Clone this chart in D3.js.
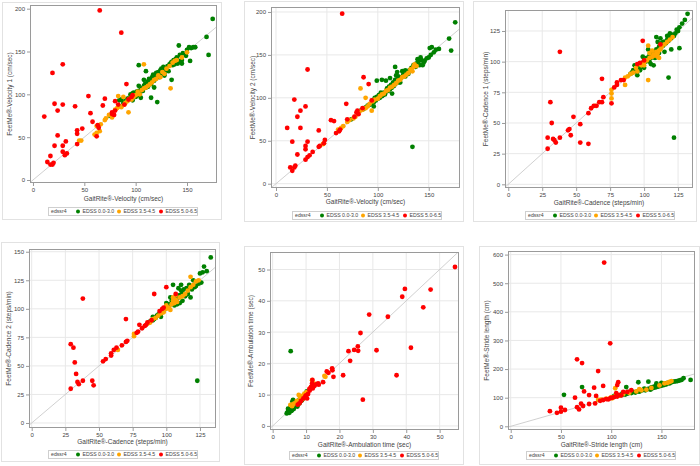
<!DOCTYPE html>
<html><head><meta charset="utf-8">
<script src="https://cdn.jsdelivr.net/npm/d3@7"></script>
<style>body{margin:0;background:#fff} svg{display:block} text{font-family:Arial,"Liberation Sans",sans-serif}</style>
</head><body><svg id="c" width="700" height="466"></svg>
<script>
// ---------- data ----------
const groupLabels = ["EDSS 0.0-3.0","EDSS 3.5-4.5","EDSS 5.0-6.5"];
const groupColors = ["#008000","#ffa500","#ff0000"];
const legendTitle = "edssr4";

const velTicks = [0,50,100,150];
const vel1YTicks = [0,50,100,150,200];
const vel2YTicks = [0,50,100,150,200];
const cadXTicks = [0,25,50,75,100,125];
const cad1YTicks = [0,25,50,75,100,125];
const cad2YTicks = [0,25,50,75,100,125,150];
const ambXTicks = [0,10,20,30,40,50];
const ambYTicks = [0,10,20,30,40,50];
const strXTicks = [0,50,100,150];
const strYTicks = [0,100,200,300,400,500,600];

// Panel 1: Velocity 1
const p1Green = [[75,75],[84,93],[86,94],[88,90],[90,92],[92,95],[94,96],[95,100],[96,98],[97,101],[98,102],[99,100],[100,101],[100,97],[101,103],[102,99],[103,104],[104,101],[105,105],[103,110],[106,107],[107,104],[108,110],[108,117],[109,112],[110,108],[110,127],[111,113],[112,115],[112,109],[113,118],[114,116],[115,112],[115,96],[116,120],[117,118],[117,123],[118,116],[119,121],[120,125],[120,119],[121,91],[121,123],[122,126],[123,120],[124,128],[125,124],[125,130],[126,127],[127,132],[128,125],[128,122],[129,130],[130,128],[131,133],[132,127],[133,135],[134,136],[135,138],[135,117],[136,134],[137,140],[137,137],[138,135],[139,141],[140,138],[140,143],[141,136],[142,139],[142,157],[143,146],[144,138],[145,140],[145,136],[146,148],[149,145],[150,152],[152,155],[153,139],[154,154],[156,155],[158,155],[169,167],[171,146],[175,188],[103,134],[97,93],[118,108],[105,96]];
const p1Orange = [[45,46],[47,46],[60,53],[62,55],[65,57],[62,63],[66,65],[70,70],[71,72],[74,76],[77,73],[80,82],[82,84],[83,98],[85,86],[86,85],[88,97],[89,88],[90,90],[92,92],[93,79],[94,95],[96,94],[98,97],[100,99],[102,103],[104,100],[106,105],[108,107],[108,135],[110,108],[112,110],[114,112],[116,114],[118,117],[120,118],[122,122],[124,120],[126,126],[128,124],[130,130],[133,133],[134,107],[136,137],[138,139],[140,140],[145,143],[150,149]];
const p1Red = [[65,198],[86,172],[29,135],[19,125],[11,74],[21,89],[29,88],[24,81],[41,86],[54,98],[56,78],[70,95],[68,87],[91,112],[80,92],[43,58],[43,54],[48,60],[24,52],[21,40],[29,40],[32,45],[29,33],[33,31],[31,29],[17,28],[43,42],[14,21],[17,18],[19,18],[20,20],[58,68],[63,64],[62,51],[64,61],[77,77],[77,79],[80,81],[83,88],[89,88],[97,99],[96,97],[93,94],[79,76]];

// Panel 2: Velocity 2
const p2Green = [[176,188],[170,169],[172,155],[151,158],[153,159],[150,147],[134,43],[117,136],[99,120],[114,105],[96,90],[74,75],[143,144],[140,142],[145,141],[141,138],[138,140],[144,138],[139,145],[142,147],[146,143],[137,136],[135,138],[133,135],[131,132],[130,128],[128,130],[127,125],[125,127],[124,131],[123,124],[122,122],[121,118],[120,125],[119,120],[118,117],[117,121],[116,114],[115,118],[114,112],[113,115],[112,110],[111,113],[110,108],[109,111],[108,107],[107,104],[106,106],[105,103],[104,102],[103,106],[102,100],[101,103],[100,99],[99,101],[98,97],[97,100],[96,95],[95,97],[94,94],[92,92],[90,91],[88,89],[86,87],[84,86],[155,153],[157,156],[160,157],[148,146],[152,150],[127,132],[122,118],[119,130],[118,126],[104,121],[108,120],[112,123]];
const p2Orange = [[83,111],[88,100],[94,85],[47,47],[46,46],[61,63],[66,67],[64,65],[134,131],[135,136],[70,72],[72,74],[76,76],[78,78],[82,84],[85,86],[88,88],[90,90],[92,93],[95,96],[97,98],[100,99],[102,102],[104,104],[106,105],[108,108],[110,109],[112,112],[114,113],[116,115],[118,117],[120,120],[122,121],[124,124],[126,125],[128,127],[130,129],[132,133],[136,139],[138,137]];
const p2Red = [[65,198],[31,133],[86,124],[91,116],[18,98],[29,90],[24,85],[21,78],[24,65],[11,65],[42,62],[54,74],[57,73],[69,93],[70,75],[16,49],[31,49],[29,44],[29,40],[43,44],[42,43],[48,51],[47,47],[36,37],[33,33],[31,31],[29,28],[21,34],[19,21],[18,19],[14,19],[16,15],[59,59],[62,61],[63,63],[77,78],[79,83],[80,85],[94,97],[85,88],[81,81]];

// Panel 3: Cadence 1
const p3Green = [[132,139],[130,134],[128,131],[126,128],[124,126],[122,38],[118,87],[107,105],[115,108],[126,111],[109,120],[95,89],[90,90],[91,91],[92,93],[93,92],[94,94],[95,96],[96,95],[97,97],[98,96],[99,99],[100,101],[101,100],[102,103],[103,102],[104,105],[105,103],[106,106],[107,108],[108,107],[109,110],[110,109],[111,112],[112,111],[113,114],[114,113],[115,116],[116,115],[117,118],[118,117],[119,120],[120,119],[121,122],[122,121],[123,123],[125,125],[120,110],[112,119],[110,116],[103,110],[105,98],[107,97],[117,121],[113,115],[104,100],[100,95],[97,93],[93,97],[99,104],[108,103],[111,107],[114,116],[119,123]];
const p3Orange = [[76,77],[76,74],[76,70],[64,64],[86,81],[86,87],[103,85],[110,104],[103,113],[88,88],[90,90],[92,91],[94,95],[96,98],[98,97],[100,99],[102,101],[104,103],[106,104],[107,106],[108,105],[109,108],[110,107],[111,109],[112,110],[113,112],[115,114],[117,116],[119,118],[121,120],[111,103],[106,109],[104,107],[100,97],[95,92]];
const p3Red = [[38,108],[31,67],[32,50],[29,38],[29,29],[33,37],[34,36],[35,34],[38,38],[44,44],[45,45],[46,40],[48,55],[53,49],[53,34],[59,33],[59,58],[61,62],[63,64],[65,64],[67,67],[69,67],[69,86],[70,71],[76,66],[78,79],[80,83],[80,81],[83,85],[85,85],[99,117],[95,98],[97,99],[100,101],[112,114]];

// Panel 4: Cadence 2
const p4Green = [[133,145],[128,137],[130,133],[127,132],[125,131],[123,37],[110,105],[90,93],[105,121],[118,119],[120,125],[117,121],[115,118],[113,117],[112,114],[111,116],[110,112],[109,110],[108,111],[107,109],[106,108],[105,106],[104,107],[103,104],[102,103],[101,104],[100,101],[99,100],[98,99],[97,97],[96,98],[95,96],[94,95],[93,94],[92,92],[91,91],[90,90],[88,89],[87,88],[106,103],[108,104],[112,107],[114,111],[116,113],[119,117],[121,119],[122,120],[124,122],[126,123],[109,118],[111,121],[103,110],[100,105],[96,93],[118,110]];
const p4Orange = [[76,76],[76,78],[64,64],[103,99],[118,128],[86,87],[88,88],[90,91],[92,92],[94,94],[96,96],[98,97],[100,100],[102,101],[104,104],[105,107],[106,105],[107,108],[108,106],[110,110],[112,111],[114,113],[116,116],[118,119],[120,121],[122,124],[124,125],[107,112],[105,110],[100,103]];
const p4Red = [[38,109],[29,69],[31,66],[32,53],[33,43],[34,36],[35,34],[38,37],[29,30],[45,37],[46,33],[70,91],[53,54],[55,56],[59,59],[59,61],[61,64],[63,66],[67,68],[70,71],[71,72],[78,79],[79,80],[80,86],[82,83],[84,85],[85,86],[91,113],[100,119],[97,100],[107,113],[95,98],[98,101],[86,88],[89,90]];

// Panel 5: Ambulation time
const p5Green = [[5.4,23.9],[4.2,4.0],[4.5,4.4],[4.8,4.6],[5.0,4.2],[5.2,5.0],[5.5,5.3],[5.8,5.1],[6.0,5.8],[6.2,6.5],[6.5,6.0],[6.8,6.6],[7.0,7.2],[7.2,6.8],[7.5,7.4],[7.8,7.9],[8.0,8.3],[8.3,8.0],[8.6,8.8],[9.0,9.2],[9.4,9.6],[9.8,10.2],[10.2,11.0],[6.1,8.3],[5.9,7.8],[4.6,5.5],[4.4,4.2],[5.6,4.8],[6.3,5.4],[7.4,6.2],[8.1,7.3],[8.8,8.2],[6.6,7.0],[5.3,6.0],[4.9,5.0],[7.7,7.0]];
const p5Orange = [[11.8,14.6],[15.8,15.7],[12,12.8],[7.8,9.9],[5.3,6.7],[5.8,6.3],[6.5,7.2],[7.2,8.0],[8.2,9.0],[8.8,9.6],[9.5,10.3],[10.2,10.8],[11.2,12.0],[12.5,13.5],[15.5,16.0],[9.0,8.6],[6.0,6.9]];
const p5Red = [[54.6,50.8],[47.3,43.6],[39.6,43.8],[38.8,41.3],[45.1,37.9],[28.9,35.6],[34.5,34.9],[26.3,29.7],[22.7,23.9],[24.4,24.3],[25.5,25.4],[25.6,24],[31.1,24.2],[41.4,25],[23.2,20.8],[37.1,16.2],[27,8.4],[21.1,16.2],[18.2,15.7],[17.8,18.4],[17.9,17.8],[16.7,17],[16.2,17.4],[15.1,14],[13.6,13.6],[13,13.3],[12.5,12.8],[11.9,14.7],[11.8,13.6],[11.5,12.5],[11.1,11.3],[10.6,10.2],[10.3,8.8],[9.8,9.5],[9.2,8.8],[8.5,8],[8,7.2],[7.5,6.8],[12,12],[11,11.8],[13.8,13.2],[10,9.8]];

// Panel 6: Stride length
const p6Green = [[53,110],[71,137],[115,137],[127,154],[137,156],[179,162],[170,162],[172,168],[103,106],[106,106],[108,108],[110,109],[112,112],[114,111],[116,114],[118,117],[120,116],[122,120],[124,118],[126,122],[128,121],[130,125],[132,127],[134,126],[136,130],[138,132],[140,136],[141,133],[142,138],[143,135],[144,140],[145,137],[146,142],[147,139],[148,144],[149,141],[150,146],[151,143],[152,148],[153,145],[154,150],[155,147],[156,152],[158,150],[160,154],[162,156],[164,157],[166,158],[168,160],[139,128],[133,132],[117,120],[111,114],[145,150],[150,152]];
const p6Orange = [[104,133],[87,92],[156,152],[160,158],[90,93],[95,97],[100,102],[104,105],[108,107],[112,113],[118,117],[125,122],[130,126],[135,128],[140,134],[148,143],[153,150],[158,155],[128,130],[101,98]];
const p6Red = [[93,572],[99,290],[66,234],[71,221],[87,193],[73,122],[83,135],[92,141],[107,154],[106,144],[70,79],[64,100],[66,67],[68,59],[72,71],[78,109],[78,78],[84,80],[85,106],[54,57],[50,65],[50,51],[46,47],[39,53],[89,89],[92,92],[95,95],[99,98],[103,102],[106,104],[110,108],[112,120],[116,120],[120,126],[105,116],[97,94],[101,100],[108,110]];

// ---------- layout ----------
const panels = [
 {frame:[2,2,222,220], plot:[30,5,217,183], xd:[-2.9,179.2], yd:[-3.5,204.3], xt:velTicks, yt:vel1YTicks,
  xl:"GaitRite®-Velocity (cm/sec)", yl:"FeetMe®-Velocity 1 (cm/sec)", data:[p1Green,p1Orange,p1Red], grid:false, legX:48, legY:211, xTitleY:199, yTitleX:10},
 {frame:[244,1,464,222], plot:[271,7,460,188], xd:[-4.9,180.7], yd:[-5,205.8], xt:velTicks, yt:vel2YTicks,
  xl:"GaitRite®-Velocity (cm/sec)", yl:"FeetMe®-Velocity 2 (cm/sec)", data:[p2Green,p2Orange,p2Red], grid:true, legX:292, legY:215, xTitleY:202, yTitleX:253},
 {frame:[473,1,697,222], plot:[505,10,693,188], xd:[-2.4,136], yd:[-3,142.1], xt:cadXTicks, yt:cad1YTicks,
  xl:"GaitRite®-Cadence (steps/min)", yl:"FeetMe®-Cadence 1 (steps/min)", data:[p3Green,p3Orange,p3Red], grid:true, legX:525, legY:215, xTitleY:203, yTitleX:486},
 {frame:[1,242,220,462], plot:[29,249,216,428], xd:[-2,136.9], yd:[-4.4,152.4], xt:cadXTicks, yt:cad2YTicks,
  xl:"GaitRite®-Cadence (steps/min)", yl:"FeetMe®-Cadence 2 (steps/min)", data:[p4Green,p4Orange,p4Red], grid:true, legX:48, legY:454, xTitleY:442, yTitleX:9},
 {frame:[244,246,464,465], plot:[270,252,459,430], xd:[-0.8,55.8], yd:[-1.3,55.6], xt:ambXTicks, yt:ambYTicks,
  xl:"GaitRite®-Ambulation time (sec)", yl:"FeetMe®-Ambulation time (sec)", data:[p5Green,p5Orange,p5Red], grid:true, legX:289, legY:455, xTitleY:445, yTitleX:251},
 {frame:[479,246,700,465], plot:[508,251,695,430], xd:[-2.7,183.4], yd:[-12.9,612.6], xt:strXTicks, yt:strYTicks,
  xl:"GaitRite®-Stride length (cm)", yl:"FeetMe®-Stride length (cm)", data:[p6Green,p6Orange,p6Red], grid:true, legX:526, legY:455, xTitleY:445, yTitleX:487}
];

const svg = d3.select("#c");
const txt = "#444", axisCol = "#9a9a9a", gridCol = "#e8e8e8", fs = 6, lfs = 5.2;

panels.forEach((p,i)=>{
  const [fx0,fy0,fx1,fy1] = p.frame, [px0,py0,px1,py1] = p.plot;
  const g = svg.append("g");
  g.append("rect").attr("x",fx0+0.5).attr("y",fy0+0.5).attr("width",fx1-fx0-1).attr("height",fy1-fy0-1)
    .attr("fill","#fff").attr("stroke","#e2e2e2");
  const x = d3.scaleLinear().domain(p.xd).range([px0,px1]);
  const y = d3.scaleLinear().domain(p.yd).range([py1,py0]);
  const cid = "clip"+i;
  g.append("clipPath").attr("id",cid).append("rect").attr("x",px0).attr("y",py0).attr("width",px1-px0).attr("height",py1-py0);
  if(p.grid){
    g.append("g").selectAll("line").data(p.xt).join("line")
      .attr("x1",d=>x(d)).attr("x2",d=>x(d)).attr("y1",py0).attr("y2",py1).attr("stroke",gridCol).attr("stroke-width",1);
    g.append("g").selectAll("line").data(p.yt).join("line")
      .attr("y1",d=>y(d)).attr("y2",d=>y(d)).attr("x1",px0).attr("x2",px1).attr("stroke",gridCol).attr("stroke-width",1);
  }
  // reference line y = x
  const lo = Math.min(p.xd[0],p.yd[0]), hi = Math.max(p.xd[1],p.yd[1]);
  g.append("line").attr("clip-path",`url(#${cid})`)
    .attr("x1",x(lo)).attr("y1",y(lo)).attr("x2",x(hi)).attr("y2",y(hi))
    .attr("stroke","#c4c4c4").attr("stroke-width",0.8);
  // axes
  const xa = g.append("g").attr("transform",`translate(0,${py1})`)
    .call(d3.axisBottom(x).tickValues(p.xt).tickSize(3).tickPadding(2).tickFormat(d3.format("d")));
  const ya = g.append("g").attr("transform",`translate(${px0},0)`)
    .call(d3.axisLeft(y).tickValues(p.yt).tickSize(3).tickPadding(2).tickFormat(d3.format("d")));
  [xa,ya].forEach(a=>{
    a.select(".domain").remove();
    a.selectAll(".tick line").attr("stroke",axisCol);
    a.selectAll(".tick text").attr("fill",txt).attr("font-size",fs).attr("font-family","Arial,'Liberation Sans',sans-serif");
  });
  // plot frame
  g.append("rect").attr("x",px0+0.5).attr("y",py0+0.5).attr("width",px1-px0-1).attr("height",py1-py0-1)
    .attr("fill","none").attr("stroke",axisCol).attr("stroke-width",1);
  // points
  p.data.forEach((arr,k)=>{
    g.append("g").attr("clip-path",`url(#${cid})`).selectAll("circle").data(arr).join("circle")
      .attr("cx",d=>x(d[0])).attr("cy",d=>y(d[1])).attr("r",2.4).attr("fill",groupColors[k]);
  });
  // titles
  g.append("text").attr("x",(px0+px1)/2).attr("y",p.xTitleY).attr("text-anchor","middle").attr("dominant-baseline","middle")
    .attr("font-size",fs+0.5).attr("fill",txt).text(p.xl);
  g.append("text").attr("transform",`translate(${p.yTitleX},${(py0+py1)/2}) rotate(-90)`).attr("text-anchor","middle")
    .attr("dominant-baseline","middle").attr("font-size",fs+0.5).attr("fill",txt).text(p.yl);
  // legend
  const lg = g.append("g").attr("transform",`translate(${p.legX},${p.legY})`);
  lg.append("rect").attr("x",0.5).attr("y",-3.5).attr("width",149).attr("height",8).attr("fill","#fff").attr("stroke","#cfcfcf");
  lg.append("text").attr("x",3).attr("y",0.5).attr("dominant-baseline","middle").attr("font-size",lfs).attr("fill",txt).text(legendTitle);
  const offs = [30,71,113];
  groupLabels.forEach((lab,k)=>{
    lg.append("circle").attr("cx",offs[k]).attr("cy",0.5).attr("r",2).attr("fill",groupColors[k]);
    lg.append("text").attr("x",offs[k]+4.5).attr("y",0.5).attr("dominant-baseline","middle").attr("font-size",lfs).attr("fill",txt).text(lab);
  });
});
</script></body></html>
